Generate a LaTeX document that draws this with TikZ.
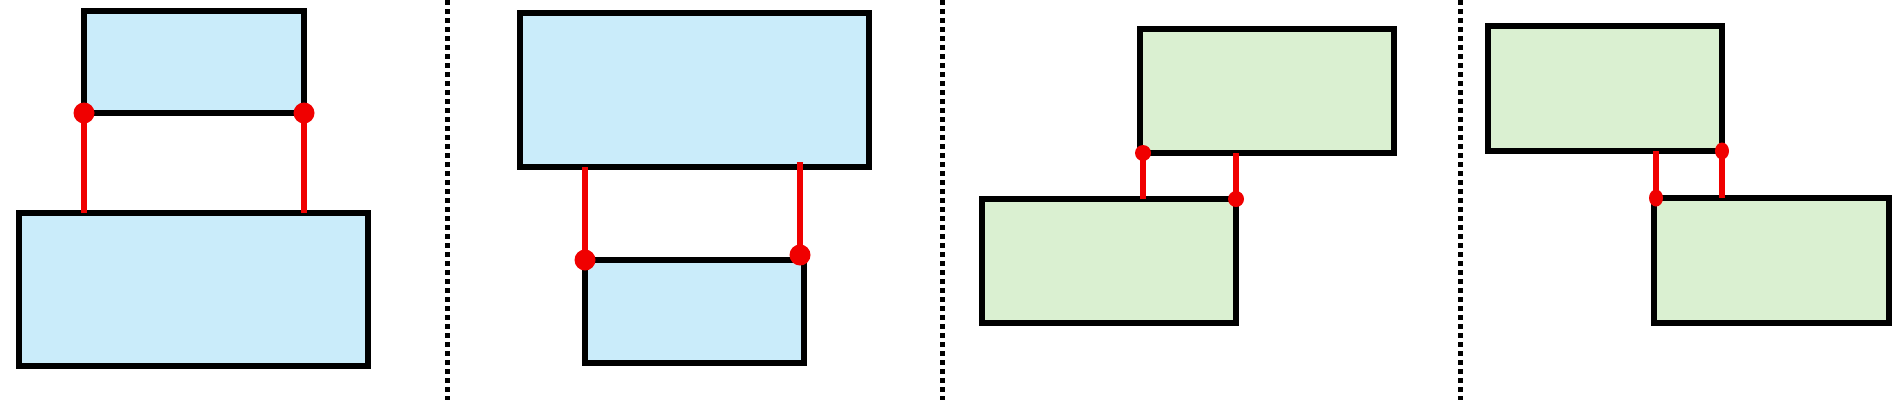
\documentclass[tikz,border=0pt]{standalone}
\definecolor{boxblue}{RGB}{202,236,250}
\definecolor{boxgreen}{RGB}{218,240,209}
\definecolor{linkred}{RGB}{240,0,0}
\begin{document}
\begin{tikzpicture}[x=1pt, y=-1pt,
  box/.style={draw, line width=6pt, outer sep=0pt, inner sep=0pt},
  bluebox/.style={box, fill=boxblue},
  greenbox/.style={box, fill=boxgreen},
  link/.style={draw=linkred, line width=6pt},
  divider/.style={line width=5pt, dash pattern=on 4.5pt off 4.5pt}]
\useasboundingbox (0,0) rectangle (1902,400);
% dividers
\draw[divider] (447,0) -- (447,400);
\draw[divider] (942,0) -- (942,400);
\draw[divider] (1460,0) -- (1460,400);
% panel 1
\node[bluebox, minimum width=220pt, minimum height=102pt] (t1) at (194,62) {};
\node[bluebox, minimum width=349pt, minimum height=153pt] (b1) at (193.5,289.5) {};
\draw[link] (t1.south west) -- (t1.south west |- b1.north);
\draw[link] (t1.south east) -- (t1.south east |- b1.north);
\fill[linkred] (t1.south west) circle[radius=10.5];
\fill[linkred] (t1.south east) circle[radius=10.5];
% panel 2
\node[bluebox, minimum width=349pt, minimum height=154pt] (t2) at (694.5,90) {};
\node[bluebox, minimum width=219pt, minimum height=103pt] (b2) at (694.5,311.5) {};
\draw[link] (b2.north west |- t2.south) -- (b2.north west);
\draw[link] ([xshift=-4pt, yshift=5pt]b2.north east |- t2.south) -- ([xshift=-4pt, yshift=5pt]b2.north east);
\fill[linkred] (b2.north west) circle[radius=10.5];
\fill[linkred] ([xshift=-4pt, yshift=5pt]b2.north east) circle[radius=10.5];
% panel 3
\node[greenbox, minimum width=254pt, minimum height=124pt] (t3) at (1267,91) {};
\node[greenbox, minimum width=254pt, minimum height=124pt] (b3) at (1109,261) {};
\draw[link] ([xshift=3pt]t3.south west) -- ([xshift=3pt]t3.south west |- b3.north);
\draw[link] (b3.north east |- t3.south) -- (b3.north east);
\fill[linkred] ([xshift=3pt]t3.south west) circle[radius=8];
\fill[linkred] (b3.north east) circle[radius=8];
% panel 4
\node[greenbox, minimum width=234pt, minimum height=125pt] (t4) at (1605,88.5) {};
\node[greenbox, minimum width=235pt, minimum height=125pt] (b4) at (1771.5,260.5) {};
\draw[link] ([xshift=2pt]b4.north west |- t4.south) -- ([xshift=2pt]b4.north west);
\draw[link] (t4.south east) -- (t4.south east |- b4.north);
\fill[linkred] ([xshift=2pt]b4.north west) ellipse[x radius=7, y radius=8.5];
\fill[linkred] (t4.south east) ellipse[x radius=7, y radius=8.5];
\end{tikzpicture}
\end{document}
